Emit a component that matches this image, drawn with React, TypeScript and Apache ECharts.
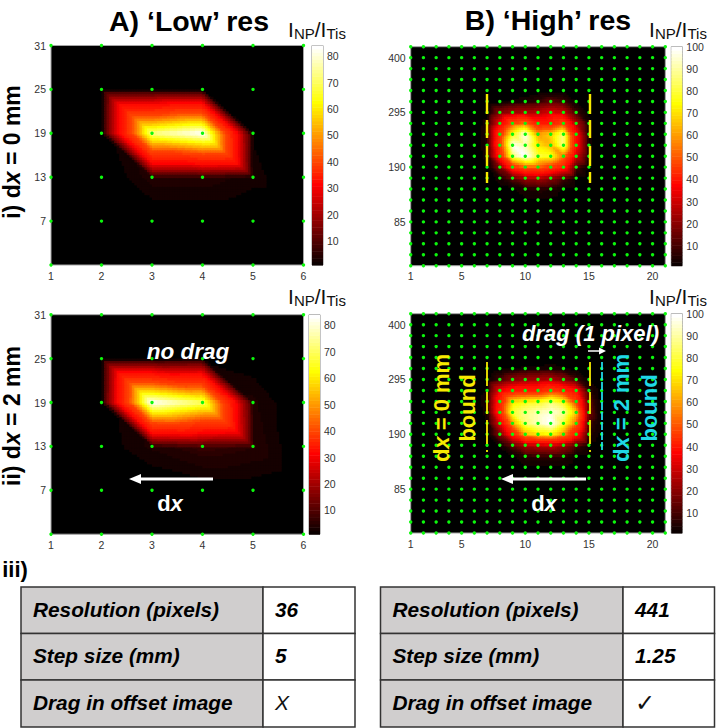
import React, { useEffect, useRef } from "react";
import * as echarts from "echarts";

const FONT = "Liberation Sans, Arial, sans-serif";

const lowX = ["1", "2", "3", "4", "5", "6"];
const lowY = ["1", "7", "13", "19", "25", "31"];
const highX = ["1","2","3","4","5","6","7","8","9","10","11","12","13","14","15","16","17","18","19","20","21"];
const highY = ["1","22","43","64","85","106","127","148","169","190","211","232","253","274","295","316","337","358","379","400","421"];
const highXShown = ["1", "5", "10", "15", "20"];
const highYShown = ["85", "190", "295", "400"];

// rows run bottom to top
const lowNoOffset = [
  [0, 0, 0, 0, 0, 0],
  [0, 0, 0, 0, 0, 0],
  [0, 0, 4.5, 4.5, 3, 0],
  [0, 1.5, 76, 84, 2, 0],
  [0, 1, 1, 1, 0, 0],
  [0, 0, 0, 0, 0, 0],
];
const lowOffset = [
  [0, 0, 0, 0, 0, 0],
  [0, 0, 0, 1, 1, 0],
  [0, 1, 4, 6, 5, 0],
  [0, 1.5, 84, 74, 4, 0],
  [0, 1, 1, 2, 1, 0],
  [0, 0, 0, 0, 0, 0],
];
const highNoOffset = [
  [0,0,0,0,0,0,0,0,0,0,0,0,0,0,0,0,0,0,0,0,0],
  [0,0,0,0,0,0,0,0,0,0,0,0,0,0,0,0,0,0,0,0,0],
  [0,0,0,0,0,0,0,0,0,0,0,0,0,0,0,0,0,0,0,0,0],
  [0,0,0,0,0,0,0,0,0,0,0,0,0,0,0,0,0,0,0,0,0],
  [0,0,0,0,0,0,0,0,0,0,0,0,0,0,0,0,0,0,0,0,0],
  [0,0,0,0,0,0,0,0,0,0,0,0,0,0,0,0,0,0,0,0,0],
  [0,0,0,0,0,0,0,0,1,2,2,2,1,0,0,0,0,0,0,0,0],
  [0,0,0,0,0,0,0,1,2,4,5,4,2,1,0,0,0,0,0,0,0],
  [0,0,0,0,0,0,0,4,10,18,20,15,8,2,0,0,0,0,0,0,0],
  [0,0,0,0,0,0,1,14,45,58,58,50,40,8,1,0,0,0,0,0,0],
  [0,0,0,0,0,0,4,42,88,100,84,82,62,25,3,0,0,0,0,0,0],
  [0,0,0,0,0,0,5,50,98,94,76,70,90,35,3,0,0,0,0,0,0],
  [0,0,0,0,0,0,5,48,82,98,68,74,90,35,3,0,0,0,0,0,0],
  [0,0,0,0,0,0,4,30,56,62,42,42,52,22,3,0,0,0,0,0,0],
  [0,0,0,0,0,0,1,15,20,22,22,28,25,8,1,0,0,0,0,0,0],
  [0,0,0,0,0,0,0,1,3,4,6,10,8,2,0,0,0,0,0,0,0],
  [0,0,0,0,0,0,0,0,0,0,1,1,1,0,0,0,0,0,0,0,0],
  [0,0,0,0,0,0,0,0,0,0,0,0,0,0,0,0,0,0,0,0,0],
  [0,0,0,0,0,0,0,0,0,0,0,0,0,0,0,0,0,0,0,0,0],
  [0,0,0,0,0,0,0,0,0,0,0,0,0,0,0,0,0,0,0,0,0],
  [0,0,0,0,0,0,0,0,0,0,0,0,0,0,0,0,0,0,0,0,0],
];
const highOffset = [
  [0,0,0,0,0,0,0,0,0,0,0,0,0,0,0,0,0,0,0,0,0],
  [0,0,0,0,0,0,0,0,0,0,0,0,0,0,0,0,0,0,0,0,0],
  [0,0,0,0,0,0,0,0,0,0,0,0,0,0,0,0,0,0,0,0,0],
  [0,0,0,0,0,0,0,0,0,0,0,0,0,0,0,0,0,0,0,0,0],
  [0,0,0,0,0,0,0,0,0,0,0,0,0,0,0,0,0,0,0,0,0],
  [0,0,0,0,0,0,0,0,0,0,0,0,0,0,0,0,0,0,0,0,0],
  [0,0,0,0,0,0,0,0,1,2,2,2,2,1,0,0,0,0,0,0,0],
  [0,0,0,0,0,0,0,0,2,5,6,6,5,2,1,0,0,0,0,0,0],
  [0,0,0,0,0,0,0,3,10,20,22,24,18,8,2,0,0,0,0,0,0],
  [0,0,0,0,0,0,1,14,40,68,76,78,65,38,5,1,0,0,0,0,0],
  [0,0,0,0,0,0,2,28,66,88,94,100,84,60,8,1,0,0,0,0,0],
  [0,0,0,0,0,0,4,44,84,90,94,97,92,72,12,1,0,0,0,0,0],
  [0,0,0,0,0,0,5,42,76,80,82,88,80,52,10,1,0,0,0,0,0],
  [0,0,0,0,0,0,3,30,40,42,42,52,45,36,6,1,0,0,0,0,0],
  [0,0,0,0,0,0,1,8,15,18,20,22,16,8,2,0,0,0,0,0,0],
  [0,0,0,0,0,0,0,1,2,3,3,4,3,1,0,0,0,0,0,0,0],
  [0,0,0,0,0,0,0,0,0,0,0,0,0,0,0,0,0,0,0,0,0],
  [0,0,0,0,0,0,0,0,0,0,0,0,0,0,0,0,0,0,0,0,0],
  [0,0,0,0,0,0,0,0,0,0,0,0,0,0,0,0,0,0,0,0,0],
  [0,0,0,0,0,0,0,0,0,0,0,0,0,0,0,0,0,0,0,0,0],
  [0,0,0,0,0,0,0,0,0,0,0,0,0,0,0,0,0,0,0,0,0],
];
const lowBarTicks = [10, 20, 30, 40, 50, 60, 70, 80];
const highBarTicks = [10, 20, 30, 40, 50, 60, 70, 80, 90, 100];
const tableRowNames = ["Resolution (pixels)", "Step size (mm)", "Drag in offset image"];
const tableLow = ["36", "5", "X"];
const tableHigh = ["441", "1.25", "✓"];

const LEVELS = 64;
function hot(k: number) {
  const n1 = 24, n2 = 24;
  const r = Math.min(1, k / n1);
  const g = Math.max(0, Math.min(1, (k - n1) / n2));
  const b = Math.max(0, Math.min(1, (k - n1 - n2) / (LEVELS - n1 - n2)));
  return `rgb(${Math.round(r * 255)},${Math.round(g * 255)},${Math.round(b * 255)})`;
}
// the reference image is contrast-stretched: its shading reaches red sooner than a plain ramp
function shadeCurve(t: number) {
  if (t < 0.045) return t;
  if (t < 0.08) return 0.045 + ((t - 0.045) / 0.035) * 0.075;
  if (t < 0.32) return 0.12 + ((t - 0.08) / 0.24) * 0.255;
  if (t < 0.55) return 0.375 + ((t - 0.32) / 0.23) * 0.095;
  if (t < 0.8) return 0.47 + ((t - 0.55) / 0.25) * 0.28;
  return 0.75 + ((t - 0.8) / 0.2) * 0.25;
}
function levelOf(v: number, min: number, max: number) {
  const t = Math.max(0, Math.min(1, (v - min) / (max - min)));
  return Math.max(1, Math.min(LEVELS, Math.ceil(shadeCurve(t) * LEVELS)));
}

function cellsOf(m: number[][]) {
  const out: number[][] = [];
  for (let j = 0; j < m.length - 1; j++)
    for (let i = 0; i < m[0].length - 1; i++) out.push([i, j]);
  return out;
}
function dotsOf(m: number[][]) {
  const out: number[][] = [];
  for (let j = 0; j < m.length; j++)
    for (let i = 0; i < m[0].length; i++) out.push([i, j]);
  return out;
}

function shadedSeries(idx: number, m: number[][], max: number, step: number) {
  return {
    type: "custom",
    xAxisIndex: idx,
    yAxisIndex: idx,
    data: cellsOf(m),
    encode: { x: 0, y: 1 },
    z: 1,
    silent: true,
    renderItem(_p: any, api: any) {
      const i = api.value(0), j = api.value(1);
      const BL = m[j][i], BR = m[j][i + 1], TL = m[j + 1][i], TR = m[j + 1][i + 1];
      const a = api.coord([i, j + 1]);
      const b = api.coord([i + 1, j]);
      const w = b[0] - a[0], h = b[1] - a[1];
      const nu = Math.max(1, Math.round(w / step)), nt = Math.max(1, Math.round(h / step));
      const children: any[] = [];
      if (Math.max(BL, BR, TL, TR) > 1) {
        for (let q = 0; q < nt; q++) {
          for (let p = 0; p < nu; p++) {
            const u = (p + 0.5) / nu, t = (q + 0.5) / nt;
            const v = u > t ? TL + u * (TR - TL) + t * (BR - TR) : TL + t * (BL - TL) + u * (BR - BL);
            const k = levelOf(v, 1, max);
            if (k <= 1) continue;
            children.push({
              type: "rect",
              shape: { x: a[0] + (p * w) / nu, y: a[1] + (q * h) / nt, width: w / nu + 0.9, height: h / nt + 0.9 },
              style: { fill: hot(k) },
            });
          }
        }
      }
      return { type: "group", children };
    },
  };
}
function dotSeries(idx: number, m: number[][], size: number) {
  return {
    type: "scatter",
    xAxisIndex: idx,
    yAxisIndex: idx,
    data: dotsOf(m),
    symbolSize: size,
    clip: false,
    z: 3,
    silent: true,
    itemStyle: { color: "#0cf70c", opacity: 1 },
  };
}
function barSeries(idx: number, max: number) {
  const data: number[][] = [];
  for (let k = 1; k <= LEVELS; k++)
    data.push([1 + ((k - 1) / LEVELS) * (max - 1), 1 + (k / LEVELS) * (max - 1), k]);
  return {
    type: "custom",
    xAxisIndex: idx,
    yAxisIndex: idx,
    data,
    encode: { y: [0, 1] },
    silent: true,
    renderItem(_p: any, api: any) {
      const a = api.coord([0, api.value(1)]);
      const b = api.coord([1, api.value(0)]);
      return {
        type: "rect",
        shape: { x: a[0], y: a[1], width: b[0] - a[0], height: b[1] - a[1] + 0.5 },
        style: { fill: hot(api.value(2)) },
      };
    },
  };
}

const axisText = { color: "#333", fontSize: 10.5, fontFamily: FONT, margin: 3 };

function App() {
  const ref = useRef<HTMLDivElement>(null);
  useEffect(() => {
    const chart = echarts.init(ref.current!, undefined, { renderer: "svg" });

    const rects = [
      { left: 51, top: 45.5, width: 252.5, height: 219.5 },
      { left: 410.7, top: 46.7, width: 254.6, height: 219 },
      { left: 51, top: 314.7, width: 252.5, height: 219.5 },
      { left: 410.7, top: 313.7, width: 254.6, height: 219.3 },
    ];
    const bars = [
      { left: 312, top: 45.5, width: 11, height: 219.5, max: 84 },
      { left: 671.3, top: 46.7, width: 11, height: 219, max: 100 },
      { left: 309, top: 314.7, width: 11, height: 219.5, max: 84 },
      { left: 671.3, top: 313.7, width: 11, height: 219.3, max: 100 },
    ];
    const isLow = [true, false, true, false];
    const matrices = [lowNoOffset, highNoOffset, lowOffset, highOffset];

    const grid: any[] = [];
    const xAxis: any[] = [];
    const yAxis: any[] = [];
    const series: any[] = [];
    rects.forEach((r, n) => {
      grid.push({ ...r, show: true, borderColor: "#a5a5a5", borderWidth: 1, backgroundColor: "#000", containLabel: false });
      const low = isLow[n];
      xAxis.push({
        gridIndex: n,
        type: "category",
        boundaryGap: false,
        data: low ? lowX : highX,
        axisLine: { show: false },
        axisTick: { show: false },
        splitLine: { show: false },
        axisLabel: {
          ...axisText,
          margin: 5,
          interval: low ? 0 : (_i: number, v: string) => highXShown.includes(v),
        },
      });
      yAxis.push({
        gridIndex: n,
        type: "category",
        boundaryGap: false,
        data: low ? lowY : highY,
        axisLine: { show: false },
        axisTick: { show: false },
        splitLine: { show: false },
        axisLabel: {
          ...axisText,
          margin: 5,
          interval: low ? (i: number) => i > 0 : (_i: number, v: string) => highYShown.includes(v),
        },
      });
      series.push(shadedSeries(n, matrices[n], low ? 84 : 100, low ? 2.5 : 2));
      series.push(dotSeries(n, matrices[n], low ? 3.4 : 3.4));
    });
    bars.forEach((b, n) => {
      const idx = n + 4;
      grid.push({ left: b.left, top: b.top, width: b.width, height: b.height, show: true, borderColor: "#8a8a8a", borderWidth: 1 });
      xAxis.push({ gridIndex: idx, type: "value", min: 0, max: 1, show: false });
      yAxis.push({
        gridIndex: idx,
        type: "value",
        min: 1,
        max: b.max,
        position: "right",
        axisLine: { show: false },
        axisTick: { show: false },
        splitLine: { show: false },
        axisLabel: { ...axisText, margin: 4, customValues: b.max === 84 ? lowBarTicks : highBarTicks },
      });
      series.push(barSeries(idx, b.max));
    });

    const text = (x: number, y: number, t: string, font: any, extra: any = {}) => ({
      type: "text",
      x,
      y,
      z: 20,
      ...extra,
      style: { text: t, fontFamily: FONT, align: "center", verticalAlign: "middle", ...font },
    });
    const ratio = (x: number, y: number) =>
      text(x, y, "{m|I}{s|NP}{m|/I}{s|Tis}", {
        fill: "#111",
        rich: {
          m: { fontSize: 21, lineHeight: 24, fontFamily: FONT, fill: "#111" },
          s: { fontSize: 15, lineHeight: 9, verticalAlign: "bottom", fontFamily: FONT, fill: "#111" },
        },
      });
    const rowLabel = (x: number, y: number, a: string, b: string) =>
      text(x, y, `{b|${a}}{i|x}{b|${b}}`, {
        rich: {
          b: { fontSize: 23, fontWeight: "bold", fontFamily: FONT, fill: "#000" },
          i: { fontSize: 23, fontWeight: "bold", fontStyle: "italic", fontFamily: FONT, fill: "#000" },
        },
      }, { rotation: Math.PI / 2 });
    const inner = (x: number, y: number, a: string, b: string, color: string, size: number, rot = 0) =>
      text(x, y, `{b|${a}}{i|x}{b|${b}}`, {
        rich: {
          b: { fontSize: size, fontWeight: "bold", fontFamily: FONT, fill: color },
          i: { fontSize: size, fontWeight: "bold", fontStyle: "italic", fontFamily: FONT, fill: color },
        },
      }, { rotation: rot });
    const arrow = (x1: number, x2: number, y: number, w: number, hw: number, hl: number) => {
      const dir = x2 > x1 ? 1 : -1;
      return [
        { type: "line", z: 15, shape: { x1, y1: y, x2: x2 - dir * hl, y2: y }, style: { stroke: "#fff", lineWidth: w } },
        { type: "polygon", z: 15, shape: { points: [[x2, y], [x2 - dir * hl, y - hw], [x2 - dir * hl, y + hw]] }, style: { fill: "#fff" } },
      ];
    };
    const vline = (x: number, y1: number, y2: number, color: string, w: number, dash: number[]) => ({
      type: "line",
      z: 12,
      shape: { x1: x, y1, x2: x, y2 },
      style: { stroke: color, lineWidth: w, lineDash: dash },
    });
    const Y = "#f7ea00";
    const C = "#1fd8e6";

    const tableEls: any[] = [];
    const drawTable = (x0: number, sep: number, x1: number, vals: string[]) => {
      const rows = [587, 633.5, 680, 727];
      vals.forEach((v, i) => {
        tableEls.push({ type: "rect", z: 5, shape: { x: x0, y: rows[i], width: sep - x0, height: rows[i + 1] - rows[i] }, style: { fill: "#d0cece", stroke: "#333", lineWidth: 1.5 } });
        tableEls.push({ type: "rect", z: 5, shape: { x: sep, y: rows[i], width: x1 - sep, height: rows[i + 1] - rows[i] }, style: { fill: "#fff", stroke: "#333", lineWidth: 1.5 } });
        const cy = (rows[i] + rows[i + 1]) / 2 - 1;
        tableEls.push(text(x0 + 12, cy, tableRowNames[i], { align: "left", fontSize: 20.8, fontWeight: "bold", fontStyle: "italic", fill: "#000" }));
        const symbol = v === "X" || v === "✓";
        tableEls.push(text(sep + 12, cy, v, symbol
          ? { align: "left", fontSize: v === "X" ? 21 : 24, fontStyle: v === "X" ? "italic" : "normal", fontFamily: v === "X" ? FONT : "DejaVu Sans", fill: "#111" }
          : { align: "left", fontSize: 20.8, fontWeight: "bold", fontStyle: "italic", fill: "#000" }));
      });
    };
    drawTable(21, 263, 355, tableLow);
    drawTable(380.5, 623, 714.5, tableHigh);

    const graphic: any[] = [
      text(189, 21, "A) ‘Low’ res", { fontSize: 28.5, fontWeight: "bold", fill: "#000" }),
      text(548, 20, "B) ‘High’ res", { fontSize: 28.5, fontWeight: "bold", fill: "#000" }),
      ratio(317, 29),
      ratio(678, 29),
      ratio(317, 296),
      ratio(678, 296),
      rowLabel(12, 152, "i) d", " = 0 mm"),
      rowLabel(12, 416, "ii) d", " = 2 mm"),
      text(188, 351, "no drag", { fontSize: 22.5, fontWeight: "bold", fontStyle: "italic", fill: "#fff" }),
      inner(170, 503, "d", "", "#fff", 22),
      ...arrow(213, 129, 479, 3, 5, 12),
      vline(487, 94, 183, Y, 2.4, [20, 6, 18, 8]),
      vline(590, 94, 183, Y, 2.4, [20, 6, 18, 8]),
      vline(487, 362, 452, Y, 1.8, [24, 6, 22, 6]),
      vline(590, 362, 452, Y, 1.8, [24, 6, 22, 6]),
      vline(602, 362, 452, C, 1.8, [8, 2]),
      text(590.5, 333, "drag (1 pixel)", { fontSize: 22, fontWeight: "bold", fontStyle: "italic", fill: "#fff" }),
      ...arrow(588, 606, 351, 1.5, 3.5, 7),
      inner(441, 408, "d", " = 0 mm", Y, 22, Math.PI / 2),
      text(467, 408, "bound", { fontSize: 22, fontWeight: "bold", fill: Y }, { rotation: Math.PI / 2 }),
      inner(621, 408, "d", " = 2 mm", C, 22, Math.PI / 2),
      text(649, 408, "bound", { fontSize: 22, fontWeight: "bold", fill: C }, { rotation: Math.PI / 2 }),
      ...arrow(586, 501, 479, 3, 5, 12),
      inner(544, 503, "d", "", "#fff", 22),
      text(15, 569, "iii)", { fontSize: 22, fontWeight: "bold", fill: "#000" }),
      ...tableEls,
    ];

    chart.setOption({ animation: false, backgroundColor: "#fff", grid, xAxis, yAxis, series, graphic });
    return () => chart.dispose();
  }, []);
  return <div ref={ref} style={{ position: "absolute", left: 0, top: 0, width: 716, height: 728 }} />;
}

export default App;
